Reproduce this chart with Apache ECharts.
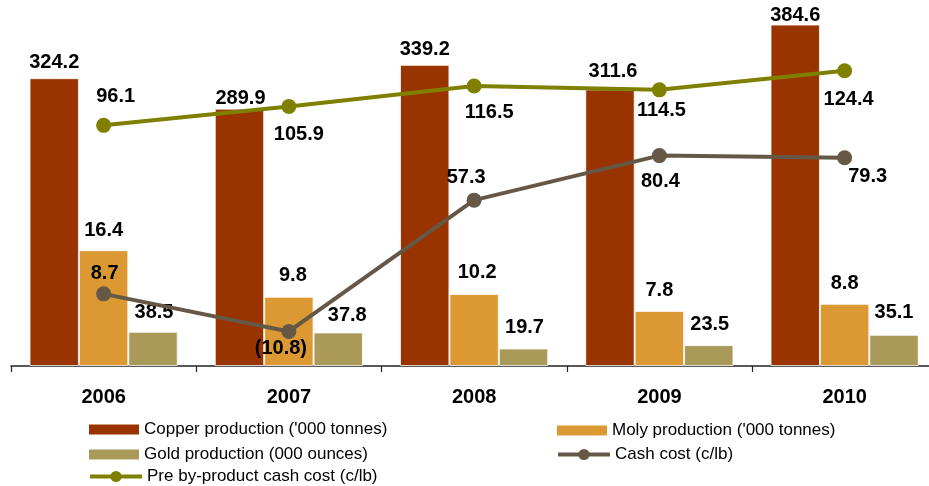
<!DOCTYPE html>
<html>
<head>
<meta charset="utf-8">
<script src="https://cdn.jsdelivr.net/npm/echarts@6/dist/echarts.min.js"></script>
<style>
  html, body { margin: 0; padding: 0; background: #ffffff; }
  #chart { width: 929px; height: 486px; }
</style>
</head>
<body>
<div id="chart"></div>
<script>
// Production and unit cost by year
const years = ['2006', '2007', '2008', '2009', '2010'];
const copperProduction = [324.2, 289.9, 339.2, 311.6, 384.6];   // '000 tonnes
const molyProduction = [16.4, 9.8, 10.2, 7.8, 8.8];              // '000 tonnes
const goldProduction = [38.5, 37.8, 19.7, 23.5, 35.1];           // 000 ounces
const cashCost = [8.7, -10.8, 57.3, 80.4, 79.3];                 // c/lb
const preByProductCashCost = [96.1, 105.9, 116.5, 114.5, 124.4]; // c/lb

const seriesNames = {
  copper: "Copper production ('000 tonnes)",
  moly: "Moly production ('000 tonnes)",
  gold: 'Gold production (000 ounces)',
  cash: 'Cash cost (c/lb)',
  pre: 'Pre by-product cash cost (c/lb)'
};

const colors = {
  copper: '#993300',
  moly: '#dc9833',
  gold: '#aa9a5a',
  cash: '#665847',
  pre: '#808000'
};

const FONT = "'Liberation Sans', Arial, Helvetica, sans-serif";
const labelText = {
  fontFamily: FONT,
  fontSize: 20,
  fontWeight: 'bold',
  color: '#000000'
};

// Label placement tweaks: [dx, dy] relative to the default anchor
const copperLabelShift = [[0, -6], [1, 0], [0, -5], [3, -8], [0, 1]];
const molyLabelShift = [[0, -10], [4, -11], [3, -11], [0, -10], [0, -10]];
const goldLabelShift = [[1, -9], [9, -7], [1, -11], [1, -11], [0, -12]];
const cashLabelShift = [[1, -20], [-8, 17], [-8, -23], [1, 26], [23, 19]];
const preLabelShift = [[12, -29], [10, 28], [15, 27], [2, 21], [4, 29]];

function fmt(v) {
  return v < 0 ? '(' + Math.abs(v).toFixed(1) + ')' : v.toFixed(1);
}

function withLabelShift(values, shifts) {
  return values.map((v, i) => ({
    value: v,
    label: { offset: shifts[i] }
  }));
}

const barBorder = { borderColor: 'rgba(255,255,255,0.75)', borderWidth: 1 };

const legendBase = {
  orient: 'horizontal',
  padding: 0,
  itemWidth: 50,
  itemHeight: 10,
  textStyle: { fontFamily: FONT, fontSize: 17, color: '#000000' },
  selectedMode: false
};

const barLegend = Object.assign({}, legendBase, {
  icon: 'rect',
  itemStyle: { borderWidth: 0 }
});

const lineLegend = Object.assign({}, legendBase, {
  itemWidth: 52,
  itemHeight: 14,
  lineStyle: { width: 4 },
  itemStyle: { borderWidth: 0 }
});

const option = {
  backgroundColor: '#ffffff',
  animation: false,
  grid: {
    left: 11,
    top: 10,
    width: 926.25,
    height: 356,
    containLabel: false,
    outerBoundsMode: 'none'
  },
  xAxis: {
    type: 'category',
    data: years,
    boundaryGap: true,
    axisLine: { show: true, lineStyle: { color: '#222222', width: 1.5 } },
    axisTick: { show: true, inside: false, length: 6, alignWithLabel: false, lineStyle: { color: '#222222', width: 1.2 } },
    axisLabel: {
      margin: 21,
      fontFamily: FONT,
      fontSize: 20,
      fontWeight: 'bold',
      color: '#000000'
    },
    splitLine: { show: false }
  },
  yAxis: [
    { type: 'value', min: 0, max: 401, show: false },
    { type: 'value', min: 0, max: 50.4, show: false },
    { type: 'value', min: -28.7, max: 155.9, show: false }
  ],
  legend: [
    Object.assign({}, barLegend, { left: 89, top: 421, data: [seriesNames.copper] }),
    Object.assign({}, barLegend, { left: 557, top: 422, data: [seriesNames.moly] }),
    Object.assign({}, barLegend, { left: 89, top: 446, data: [seriesNames.gold] }),
    Object.assign({}, lineLegend, { left: 556, top: 446, data: [seriesNames.cash] }),
    Object.assign({}, lineLegend, { left: 88, top: 468, data: [seriesNames.pre] })
  ],
  series: [
    {
      name: seriesNames.copper,
      type: 'bar',
      yAxisIndex: 0,
      barGap: '0%',
      barCategoryGap: '20%',
      itemStyle: Object.assign({ color: colors.copper }, barBorder),
      label: Object.assign({ show: true, position: 'top', distance: 0, formatter: p => fmt(p.value) }, labelText),
      data: withLabelShift(copperProduction, copperLabelShift)
    },
    {
      name: seriesNames.moly,
      type: 'bar',
      yAxisIndex: 1,
      barGap: '0%',
      barCategoryGap: '20%',
      itemStyle: Object.assign({ color: colors.moly }, barBorder),
      label: Object.assign({ show: true, position: 'top', distance: 0, formatter: p => fmt(p.value) }, labelText),
      data: withLabelShift(molyProduction, molyLabelShift)
    },
    {
      name: seriesNames.gold,
      type: 'bar',
      yAxisIndex: 0,
      barGap: '0%',
      barCategoryGap: '20%',
      itemStyle: Object.assign({ color: colors.gold }, barBorder),
      label: Object.assign({ show: true, position: 'top', distance: 0, formatter: p => fmt(p.value) }, labelText),
      data: withLabelShift(goldProduction, goldLabelShift)
    },
    {
      name: seriesNames.cash,
      type: 'line',
      yAxisIndex: 2,
      symbol: 'circle',
      symbolSize: 15,
      z: 5,
      lineStyle: { color: colors.cash, width: 4 },
      itemStyle: { color: colors.cash },
      label: Object.assign({ show: true, position: 'inside', formatter: p => fmt(p.value) }, labelText),
      data: withLabelShift(cashCost, cashLabelShift)
    },
    {
      name: seriesNames.pre,
      type: 'line',
      yAxisIndex: 2,
      symbol: 'circle',
      symbolSize: 15,
      z: 5,
      lineStyle: { color: colors.pre, width: 4 },
      itemStyle: { color: colors.pre },
      label: Object.assign({ show: true, position: 'inside', formatter: p => fmt(p.value) }, labelText),
      data: withLabelShift(preByProductCashCost, preLabelShift)
    }
  ]
};

const chart = echarts.init(document.getElementById('chart'), null, { renderer: 'canvas' });
chart.setOption(option);
</script>
</body>
</html>
